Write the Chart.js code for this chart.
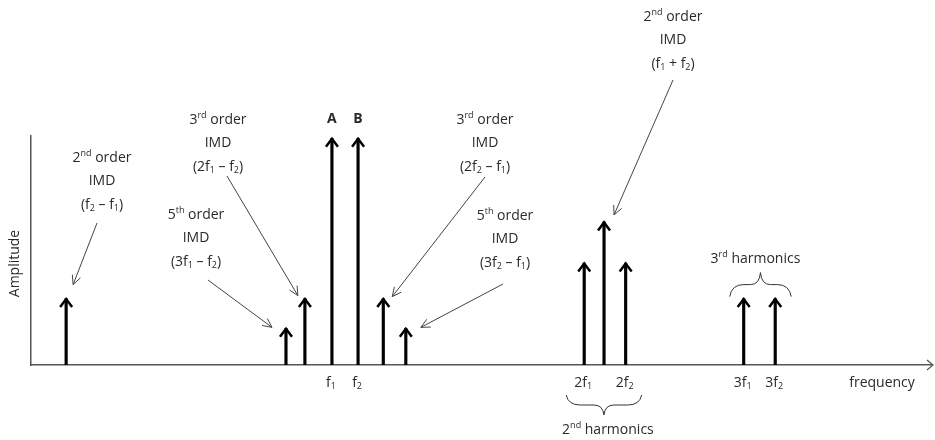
<!DOCTYPE html>
<html>
<head>
<meta charset="utf-8">
<script src="https://cdn.jsdelivr.net/npm/chart.js@4.4.0/dist/chart.umd.min.js"></script>
<style>
  html, body { margin: 0; padding: 0; background: #fff; }
  #wrap { width: 935px; height: 440px; }
</style>
</head>
<body>
<div id="wrap"><canvas id="spectrum"></canvas></div>
<script>
// spectral lines: position on the frequency axis (0-100) and amplitude (0-100)
const tones = ['f2-f1', '3f1-f2', '2f1-f2', 'f1', 'f2', '2f2-f1', '3f2-f1', '2f1', 'f1+f2', '2f2', '3f1', '3f2'];
const freqs = [3.9, 28.3, 30.4, 33.4, 36.3, 39.1, 41.6, 61.4, 63.6, 66.0, 79.1, 82.6];
const amps  = [29, 16, 29, 99, 99, 29, 16, 44.5, 62.5, 44.5, 29, 29];

// labels under the axis (index into tones)
const tickTones  = [3, 4, 7, 9, 10, 11];
const tickLabels = ['f_{1}', 'f_{2}', '2f_{1}', '2f_{2}', '3f_{1}', '3f_{2}'];

// letters above the two main tones
const topTones  = [3, 4];
const topLabels = ['A', 'B'];

const FONT = '"Open Sans", Lato, sans-serif';
const TEXT = '#2a2a2a';
const SIZE = 14;

// callout text blocks with a leader arrow pointing to one tone
const callouts = [
  { x: 102, y: 158, lines: ['2^{nd} order', 'IMD', '(f_{2} – f_{1})'], from: [97, 223], tone: 0, off: [7, -14] },
  { x: 218, y: 120, lines: ['3^{rd} order', 'IMD', '(2f_{1} – f_{2})'], from: [227, 176], tone: 2, off: [-7, -3] },
  { x: 196, y: 215, lines: ['5^{th} order', 'IMD', '(3f_{1} – f_{2})'], from: [208, 280], tone: 1, off: [-14, -1] },
  { x: 485, y: 120, lines: ['3^{rd} order', 'IMD', '(2f_{2} – f_{1})'], from: [485, 177], tone: 5, off: [9, -2] },
  { x: 505, y: 216, lines: ['5^{th} order', 'IMD', '(3f_{2} – f_{1})'], from: [503, 284], tone: 6, off: [15, -1] },
  { x: 673, y: 17,  lines: ['2^{nd} order', 'IMD', '(f_{1} + f_{2})'], from: [673, 80], tone: 8, off: [10, -7] }
];

function parseRich(str) {
  const parts = [];
  const re = /([\^_])\{([^}]*)\}/g;
  let last = 0, m;
  while ((m = re.exec(str))) {
    if (m.index > last) parts.push({ t: str.slice(last, m.index), k: 'n' });
    parts.push({ t: m[2], k: m[1] === '^' ? 'sup' : 'sub' });
    last = re.lastIndex;
  }
  if (last < str.length) parts.push({ t: str.slice(last), k: 'n' });
  return parts;
}

function drawRich(ctx, str, cx, cy, size, bold) {
  const parts = parseRich(str);
  const small = Math.round(size * 0.62);
  const font = s => (bold ? 'bold ' : '') + s + 'px ' + FONT;
  let w = 0;
  parts.forEach(p => {
    ctx.font = font(p.k === 'n' ? size : small);
    p.w = ctx.measureText(p.t).width;
    w += p.w;
  });
  let x = cx - w / 2;
  ctx.textBaseline = 'middle';
  ctx.textAlign = 'left';
  parts.forEach(p => {
    ctx.font = font(p.k === 'n' ? size : small);
    const dy = p.k === 'sup' ? -size * 0.32 : p.k === 'sub' ? size * 0.28 : 0;
    ctx.fillText(p.t, x, cy + dy);
    x += p.w;
  });
}

function leader(ctx, x1, y1, x2, y2) {
  const a = Math.atan2(y2 - y1, x2 - x1);
  const len = 10, spread = 0.45;
  ctx.beginPath();
  ctx.moveTo(x1, y1);
  ctx.lineTo(x2, y2);
  ctx.moveTo(x2 - len * Math.cos(a - spread), y2 - len * Math.sin(a - spread));
  ctx.lineTo(x2, y2);
  ctx.lineTo(x2 - len * Math.cos(a + spread), y2 - len * Math.sin(a + spread));
  ctx.stroke();
}

// curly brace between x0 and x1; yEnd at the tips, yTip at the middle point
function brace(ctx, x0, x1, yEnd, yTip) {
  const xc = (x0 + x1) / 2;
  const yMid = (yEnd + yTip) / 2;
  ctx.beginPath();
  ctx.moveTo(x0, yEnd);
  ctx.quadraticCurveTo(x0 + 2, yMid, x0 + 14, yMid);
  ctx.lineTo(xc - 10, yMid);
  ctx.quadraticCurveTo(xc - 1, yMid, xc, yTip);
  ctx.quadraticCurveTo(xc + 1, yMid, xc + 10, yMid);
  ctx.lineTo(x1 - 14, yMid);
  ctx.quadraticCurveTo(x1 - 2, yMid, x1, yEnd);
  ctx.stroke();
}

const decorations = {
  id: 'decorations',
  afterDatasetsDraw(chart) {
    const ctx = chart.ctx;
    const pts = chart.getDatasetMeta(0).data;
    const xs = chart.scales.x;
    const area = chart.chartArea;
    ctx.save();

    // arrow heads on every spectral line
    ctx.strokeStyle = '#000';
    ctx.lineWidth = 2.5;
    ctx.lineJoin = 'miter';
    pts.forEach(p => {
      ctx.beginPath();
      ctx.moveTo(p.x - 6, p.y + 8.5);
      ctx.lineTo(p.x, p.y + 0.5);
      ctx.lineTo(p.x + 6, p.y + 8.5);
      ctx.stroke();
    });

    // arrow at the end of the frequency axis
    ctx.strokeStyle = '#555';
    ctx.lineWidth = 1.2;
    ctx.beginPath();
    ctx.moveTo(area.right - 5, area.bottom - 5);
    ctx.lineTo(area.right + 1, area.bottom);
    ctx.lineTo(area.right - 5, area.bottom + 5);
    ctx.stroke();

    ctx.fillStyle = TEXT;
    // tick labels under the axis
    tickTones.forEach((t, i) => {
      drawRich(ctx, tickLabels[i], xs.getPixelForValue(freqs[t]) - 1, area.bottom + 18, SIZE, false);
    });
    drawRich(ctx, 'frequency', 882, area.bottom + 18, SIZE, false);

    // A / B
    topTones.forEach((t, i) => {
      drawRich(ctx, topLabels[i], xs.getPixelForValue(freqs[t]), 119, SIZE, true);
    });

    // axis title
    ctx.save();
    ctx.translate(15, (area.top + area.bottom) / 2 + 13);
    ctx.rotate(-Math.PI / 2);
    drawRich(ctx, 'Amplitude', 0, 0, SIZE, false);
    ctx.restore();

    // callouts
    ctx.strokeStyle = '#444';
    ctx.lineWidth = 1;
    callouts.forEach(c => {
      c.lines.forEach((l, i) => drawRich(ctx, l, c.x, c.y + i * 23.5, SIZE, false));
      const p = pts[c.tone];
      leader(ctx, c.from[0], c.from[1], p.x + c.off[0], p.y + c.off[1]);
    });

    // harmonic braces
    ctx.strokeStyle = '#333';
    ctx.lineWidth = 1;
    const h2a = xs.getPixelForValue(freqs[7]), h2b = xs.getPixelForValue(freqs[9]);
    brace(ctx, h2a - 18, h2b + 16, area.bottom + 30, area.bottom + 50);
    drawRich(ctx, '2^{nd} harmonics', (h2a + h2b) / 2 + 3, area.bottom + 65, SIZE, false);
    const h3a = xs.getPixelForValue(freqs[10]), h3b = xs.getPixelForValue(freqs[11]);
    brace(ctx, h3a - 14, h3b + 16, pts[10].y - 2, pts[10].y - 26);
    drawRich(ctx, '3^{rd} harmonics', (h3a + h3b) / 2 - 4, pts[10].y - 40, SIZE, false);

    ctx.restore();
  }
};

new Chart(document.getElementById('spectrum'), {
  type: 'bar',
  data: {
    labels: tones,
    datasets: [{
      data: freqs.map((f, i) => ({ x: f, y: amps[i] })),
      backgroundColor: '#000',
      borderWidth: 0,
      barThickness: 2.5
    }]
  },
  options: {
    responsive: true,
    maintainAspectRatio: false,
    animation: false,
    layout: { padding: { left: 31, top: 136, right: 3, bottom: 75 } },
    plugins: { legend: { display: false }, tooltip: { enabled: false } },
    scales: {
      x: {
        type: 'linear', min: 0, max: 100, offset: false,
        grid: { display: false },
        ticks: { display: false },
        border: { display: true, color: '#555', width: 1.5 },
        afterFit: s => { s.height = 0; }
      },
      y: {
        min: 0, max: 100,
        grid: { display: false },
        ticks: { display: false },
        border: { display: true, color: '#555', width: 1.5 },
        afterFit: s => { s.width = 0; }
      }
    }
  },
  plugins: [decorations]
});
</script>
</body>
</html>
